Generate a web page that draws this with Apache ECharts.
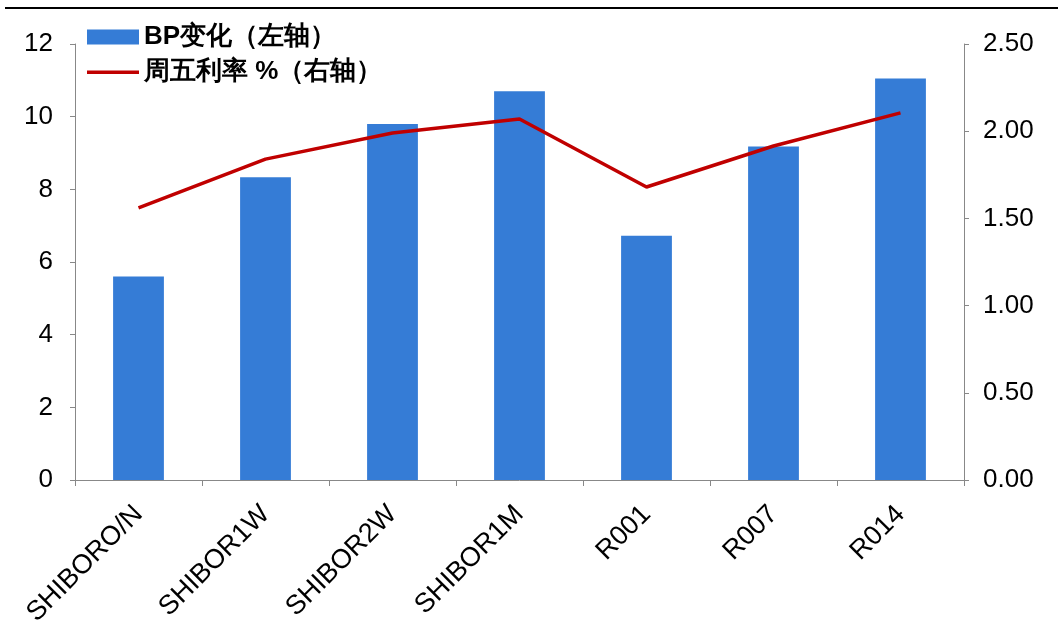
<!DOCTYPE html>
<html>
<head>
<meta charset="utf-8">
<script src="https://cdn.jsdelivr.net/npm/echarts@6/dist/echarts.min.js"></script>
<style>html,body{margin:0;padding:0;background:#fff;}#c{width:1058px;height:643px;}</style>
</head>
<body>
<div id="c"></div>
<script>
const categories = ['SHIBORO/N', 'SHIBOR1W', 'SHIBOR2W', 'SHIBOR1M', 'R001', 'R007', 'R014'];
const bpChange = [5.6, 8.33, 9.8, 10.7, 6.72, 9.18, 11.05];
const fridayRate = [1.56, 1.84, 1.99, 2.07, 1.68, 1.915, 2.105];
const barName = 'BP变化（左轴）';
const lineName = '周五利率 %（右轴）';

const chart = echarts.init(document.getElementById('c'), null, {renderer: 'canvas'});
const font = '"Liberation Sans", Arial, sans-serif';
chart.setOption({
  animation: false,
  backgroundColor: '#fff',
  graphic: [{
    type: 'line', shape: {x1: 5, y1: 8, x2: 1058, y2: 8},
    style: {stroke: '#000', lineWidth: 2}
  }],
  legend: {
    orient: 'vertical', left: 82, top: 19, itemWidth: 52, itemHeight: 15, itemGap: 9,
    textStyle: {fontSize: 26, fontWeight: 'bold', color: '#000', fontFamily: font},
    data: [
      {name: barName, icon: 'rect'},
      {name: lineName, icon: 'path://M0,6 L52,6 L52,9.5 L0,9.5 Z M0,0 L0.01,0 Z M0,15 L0.01,15 Z'}
    ]
  },
  grid: {left: 75, right: 94, top: 44, bottom: 163, containLabel: false},
  xAxis: {
    type: 'category', data: categories,
    axisLine: {lineStyle: {color: '#888', width: 1}},
    axisTick: {show: true, length: 6, lineStyle: {color: '#888'}},
    axisLabel: {rotate: 45, fontSize: 27, color: '#000', fontFamily: font, margin: 30, interval: 0}
  },
  yAxis: [{
    type: 'value', min: 0, max: 12, interval: 2, position: 'left',
    axisLine: {show: true, lineStyle: {color: '#888'}},
    axisTick: {show: true, length: 5, lineStyle: {color: '#888'}},
    splitLine: {show: false},
    axisLabel: {fontSize: 26, color: '#000', fontFamily: font, margin: 22}
  }, {
    type: 'value', min: 0, max: 2.5, interval: 0.5, position: 'right',
    axisLine: {show: true, lineStyle: {color: '#888'}},
    axisTick: {show: true, length: 5, lineStyle: {color: '#888'}},
    splitLine: {show: false},
    axisLabel: {fontSize: 26, color: '#000', fontFamily: font, margin: 19,
      formatter: v => v.toFixed(2)}
  }],
  series: [{
    name: barName, type: 'bar', data: bpChange, yAxisIndex: 0,
    barWidth: '40%', itemStyle: {color: '#357CD6'}
  }, {
    name: lineName, type: 'line', data: fridayRate, yAxisIndex: 1,
    symbol: 'none', lineStyle: {color: '#C00000', width: 3.5}, itemStyle: {color: '#C00000'}
  }]
});
</script>
</body>
</html>
